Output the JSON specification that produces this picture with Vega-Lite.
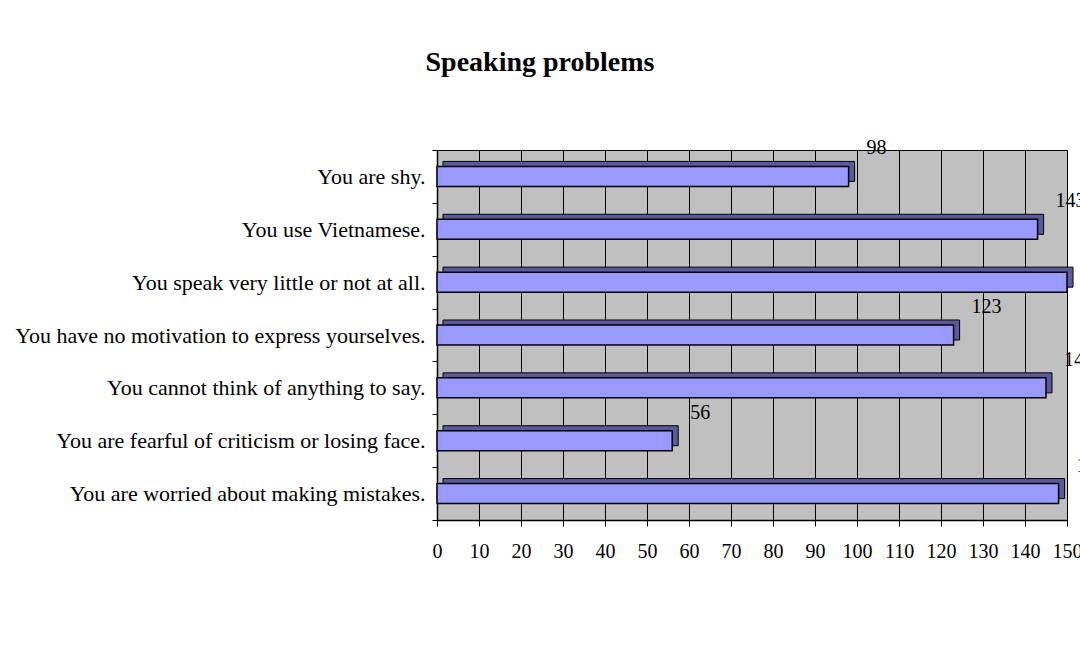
{
  "$schema": "https://vega.github.io/schema/vega-lite/v6.json",
  "width": 630,
  "height": 370,
  "autosize": "none",
  "padding": {"left": 437, "top": 150, "right": 13, "bottom": 138},
  "background": "white",
  "title": {
    "text": "Speaking problems",
    "font": "Liberation Serif",
    "fontSize": 28,
    "fontWeight": "bold",
    "color": "black",
    "anchor": "middle",
    "frame": "group",
    "dx": -212,
    "baseline": "alphabetic",
    "offset": 39
  },
  "config": {
    "view": {"fill": "#c0c0c0", "stroke": "black", "strokeWidth": 1}
  },
  "data": {
    "values": [
      {"problem": "You are shy.", "count": 98},
      {"problem": "You use Vietnamese.", "count": 143},
      {"problem": "You speak very little or not at all.", "count": 150},
      {"problem": "You have no motivation to express yourselves.", "count": 123},
      {"problem": "You cannot think of anything to say.", "count": 145},
      {"problem": "You are fearful of criticism or losing face.", "count": 56},
      {"problem": "You are worried about making mistakes.", "count": 148}
    ]
  },
  "encoding": {
    "y": {
      "field": "problem",
      "type": "nominal",
      "sort": null,
      "scale": {"paddingInner": 0, "paddingOuter": 0},
      "axis": {
        "title": null,
        "labelFont": "Liberation Serif",
        "labelFontSize": 22,
        "labelColor": "black",
        "labelPadding": 7,
        "labelLimit": 600,
        "tickBand": "extent",
        "ticks": true,
        "tickColor": "black",
        "tickSize": 5,
        "domainColor": "black",
        "domainWidth": 1.5
      }
    },
    "x": {
      "field": "count",
      "type": "quantitative",
      "scale": {"domain": [0, 150], "nice": false},
      "axis": {
        "title": null,
        "values": [0, 10, 20, 30, 40, 50, 60, 70, 80, 90, 100, 110, 120, 130, 140, 150],
        "grid": true,
        "gridColor": "black",
        "gridOpacity": 1,
        "labelFont": "Liberation Serif",
        "labelFontSize": 20,
        "labelColor": "black",
        "labelPadding": 15,
        "labelFlush": false,
        "labelOverlap": false,
        "tickColor": "black",
        "tickSize": 6,
        "domainColor": "black",
        "domainWidth": 1.5
      }
    }
  },
  "layer": [
    {
      "mark": {
        "type": "bar",
        "size": 20,
        "xOffset": 6,
        "x2Offset": 6,
        "yOffset": -5,
        "y2Offset": -5,
        "color": "#5a5a9c",
        "stroke": "black",
        "strokeWidth": 1
      }
    },
    {
      "mark": {
        "type": "bar",
        "size": 20,
        "color": "#9999ff",
        "stroke": "black",
        "strokeWidth": 1.5
      }
    },
    {
      "mark": {
        "type": "text",
        "align": "left",
        "baseline": "middle",
        "dx": 18,
        "dy": -28,
        "font": "Liberation Serif",
        "fontSize": 20,
        "color": "black"
      },
      "encoding": {"text": {"field": "count", "type": "quantitative"}}
    }
  ]
}
